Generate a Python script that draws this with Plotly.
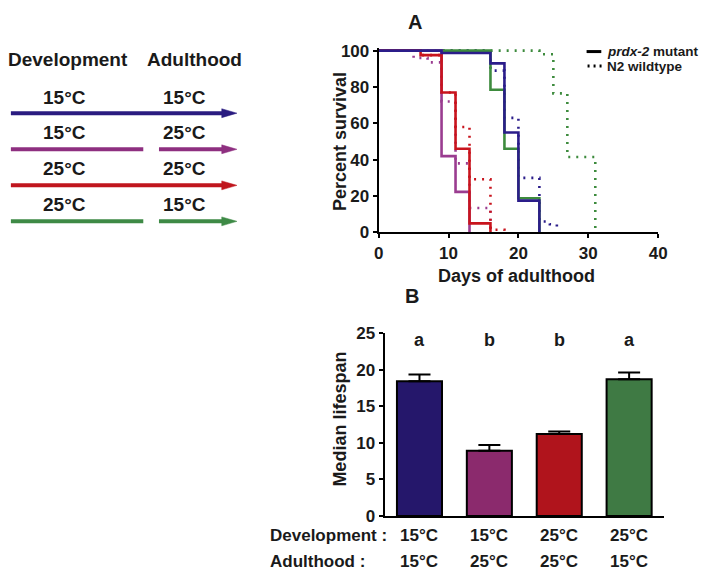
import plotly.graph_objects as go

W, H = 727, 584
FONT = "Liberation Sans, Arial, sans-serif"

# ---------------- Data ----------------
# Survival (Kaplan-Meier style steps), panel A
groups = ["15°C → 15°C", "15°C → 25°C", "25°C → 25°C", "25°C → 15°C"]
line_colors = ["#2b1d8a", "#9a3c90", "#c8141d", "#3d8b3d"]

mut_days = {
    "15°C → 15°C": [0, 9, 16, 18, 20, 23],
    "15°C → 25°C": [0, 9, 11, 13],
    "25°C → 25°C": [0, 6, 9, 11, 13, 16],
    "25°C → 15°C": [0, 16, 18, 20, 23],
}
mut_surv = {
    "15°C → 15°C": [100, 98.7, 93, 55, 17.5, 0],
    "15°C → 25°C": [100, 42, 22.3, 0],
    "25°C → 25°C": [100, 97.5, 77, 46, 5, 0],
    "25°C → 15°C": [100, 78.5, 46, 18.8, 0],
}
wt_days = {
    "15°C → 15°C": [0, 16, 18, 20, 23, 24.5, 25.5],
    "15°C → 25°C": [0, 5, 7, 9, 11, 13, 16],
    "25°C → 25°C": [0, 6, 9, 11, 13, 16, 18],
    "25°C → 15°C": [0, 23, 25, 27, 31],
}
wt_surv = {
    "15°C → 15°C": [100, 89, 63, 30, 6, 4.5, 0],
    "15°C → 25°C": [100, 96, 93.5, 72, 38, 13.5, 0],
    "25°C → 25°C": [100, 97.5, 77, 58, 29.3, 1.5, 0],
    "25°C → 15°C": [100, 98, 76.5, 41.5, 0],
}
surv_xticks = [0, 10, 20, 30, 40]
surv_yticks = [0, 20, 40, 60, 80, 100]

# Median lifespan, panel B
development = ["15°C", "15°C", "25°C", "25°C"]
adulthood = ["15°C", "25°C", "25°C", "15°C"]
median_lifespan = [18.4, 8.9, 11.2, 18.7]
median_sem = [0.95, 0.8, 0.35, 0.9]
sig_letters = ["a", "b", "b", "a"]
bar_colors = ["#25176b", "#8b2a6d", "#b0141c", "#3f7a44"]
bar_yticks = [0, 5, 10, 15, 20, 25]

# Left schematic
arrow_colors = ["#2a1c80", "#8e2f80", "#c0161e", "#3e8a46"]
arrow_split = [False, True, False, True]


def px(x):
    return x / W


def py(y):
    return 1 - y / H


fig = go.Figure()

# ---------------- Panel A: survival ----------------
draw_order = [3, 1, 2, 0]
for i in draw_order:
    g = groups[i]
    fig.add_trace(go.Scatter(
        x=wt_days[g], y=wt_surv[g], mode="lines", line_shape="hv",
        line=dict(color=line_colors[i], width=2.6, dash="2px,6px"),
        xaxis="x", yaxis="y", showlegend=False, hoverinfo="skip"))
for i in draw_order:
    g = groups[i]
    fig.add_trace(go.Scatter(
        x=mut_days[g], y=mut_surv[g], mode="lines", line_shape="hv",
        line=dict(color=line_colors[i], width=2.6),
        xaxis="x", yaxis="y", showlegend=False, hoverinfo="skip"))

# ---------------- Panel B: bars ----------------
cats = [d + " / " + a for d, a in zip(development, adulthood)]
fig.add_trace(go.Bar(
    x=cats, y=median_lifespan, width=0.645,
    marker=dict(color=bar_colors, line=dict(color="black", width=2)),
    error_y=dict(type="data", symmetric=False, array=median_sem,
                 arrayminus=[0] * len(median_sem),
                 color="black", thickness=2, width=11),
    xaxis="x2", yaxis="y2", showlegend=False, hoverinfo="skip"))

tickfont = dict(family=FONT, size=17, color="#1a1a1a", weight="bold")

# survival axes: y=0 at px 231, y=100 at px 43
ypp = (231 - 43) / 100.0
fig.update_layout(
    xaxis=dict(domain=[px(381), px(666)], range=[0, 40], tickvals=surv_xticks,
               showgrid=False, zeroline=False, showline=True, linecolor="black",
               linewidth=2, ticks="outside", ticklen=4, tickwidth=2,
               tickcolor="black", tickfont=tickfont, anchor="y"),
    yaxis=dict(domain=[py(231), py(43 - 1.5 * ypp)], range=[0, 101.5],
               tickvals=surv_yticks, showgrid=False, zeroline=False,
               showline=True, linecolor="black", linewidth=2, ticks="outside",
               ticklen=4, tickwidth=2, tickcolor="black", tickfont=tickfont,
               anchor="x"),
    xaxis2=dict(domain=[px(387), px(672)], range=[-0.5, 3.5],
                showticklabels=False, showgrid=False, zeroline=False,
                showline=True, linecolor="black", linewidth=2, ticks="",
                anchor="y2", type="category"),
    yaxis2=dict(domain=[py(524), py(335)], range=[0, 25], tickvals=bar_yticks,
                showgrid=False, zeroline=False, showline=True, linecolor="black",
                linewidth=2, ticks="outside", ticklen=4, tickwidth=2,
                tickcolor="black", tickfont=tickfont, anchor="x2"),
)

ann = []
shapes = []


def text(x, y, s, size, xanchor="center", angle=0, yanchor="middle"):
    ann.append(dict(x=px(x), y=py(y), xref="paper", yref="paper", text=s,
                    showarrow=False, xanchor=xanchor, yanchor=yanchor,
                    textangle=angle,
                    font=dict(family=FONT, size=size, color="#1a1a1a",
                              weight="bold")))


# panel labels
text(418, 13, "A", 20)
text(415, 297, "B", 20)

# axis titles
text(341, 137, "Percent survival", 18, angle=-90)
text(522, 276, "Days of adulthood", 18)
text(342, 424, "Median lifespan", 18, angle=-90)

# legend (panel A)
shapes.append(dict(type="line", xref="paper", yref="paper",
                   x0=px(593), x1=px(608), y0=py(44), y1=py(44),
                   line=dict(color="black", width=3)))
shapes.append(dict(type="line", xref="paper", yref="paper",
                   x0=px(594), x1=px(609), y0=py(59), y1=py(59),
                   line=dict(color="black", width=3, dash="2px,4px")))
text(612, 43.5, "<i>prdx-2</i> mutant", 13.5, xanchor="left")
text(612, 59.5, "N2 wildtype", 13.5, xanchor="left")

# significance letters
for c, s in zip(cats, sig_letters):
    ann.append(dict(x=c, y=24.1, xref="x2", yref="y2", text=s, showarrow=False,
                    xanchor="center", yanchor="middle",
                    font=dict(family=FONT, size=18, color="#1a1a1a", weight="bold")))

# bottom condition labels
text(268, 544, "Development :", 17, xanchor="left")
text(268, 571, "Adulthood :", 17, xanchor="left")
for c, d, a in zip(cats, development, adulthood):
    for yy, s in ((544, d), (571, a)):
        ann.append(dict(x=c, y=py(yy), xref="x2", yref="paper", text=s,
                        showarrow=False, xanchor="center", yanchor="middle",
                        font=dict(family=FONT, size=17, color="#1a1a1a",
                                  weight="bold")))

# left schematic
text(1, 52, "Development", 19, xanchor="left")
text(143, 52, "Adulthood", 19, xanchor="left")
row_text_y = [91, 127.5, 164.5, 202]
row_line_y = [107.7, 145, 182.3, 219.5]
for i in range(4):
    text(61, row_text_y[i], development[i], 19)
    text(183, row_text_y[i], adulthood[i], 19)
    yl = row_line_y[i]
    col = arrow_colors[i]
    segs = [(6, 141), (157, 223)] if arrow_split[i] else [(6, 223)]
    for a, b in segs:
        shapes.append(dict(type="line", xref="paper", yref="paper",
                           x0=px(a), x1=px(b), y0=py(yl), y1=py(yl),
                           line=dict(color=col, width=4)))
    path = "M {} {} L {} {} L {} {} Z".format(
        px(221), py(yl - 4.6), px(236.5), py(yl), px(221), py(yl + 4.6))
    shapes.append(dict(type="path", xref="paper", yref="paper", path=path,
                       fillcolor=col, line=dict(color=col, width=0.5)))

fig.update_layout(
    width=W, height=H, margin=dict(l=0, r=0, t=0, b=0),
    paper_bgcolor="white", plot_bgcolor="white",
    annotations=ann, shapes=shapes, showlegend=False,
    font=dict(family=FONT, color="#1a1a1a"),
)

# remove the default 8px page margin so the figure fills the window exactly
fig.write_html("out.html",
               config={"displayModeBar": False},
               post_script="document.body.style.margin='0';"
                           "document.body.style.overflow='hidden';")
